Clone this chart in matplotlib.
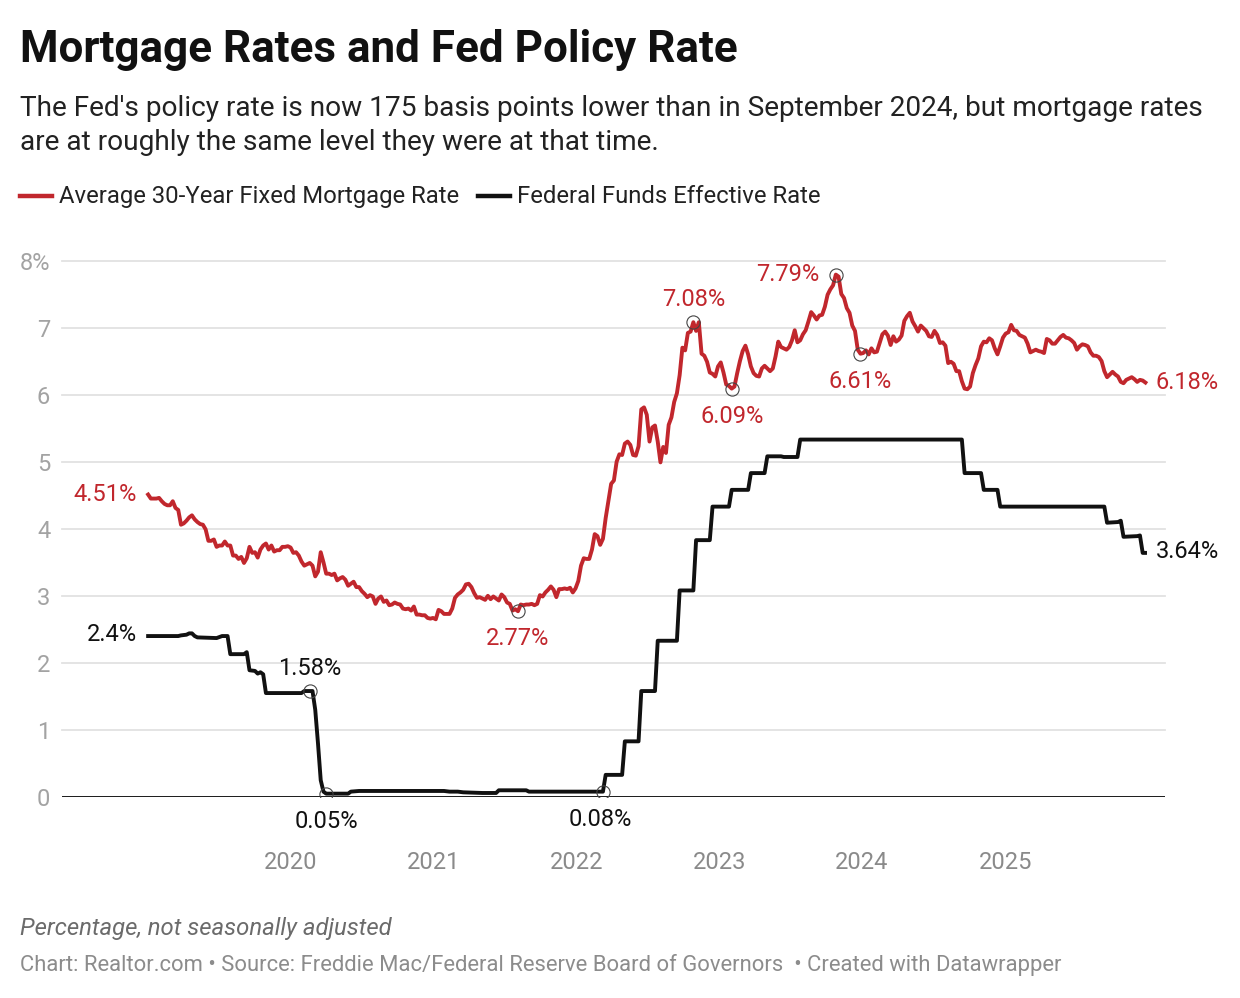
import pandas as pd
import matplotlib
matplotlib.use("Agg")
import matplotlib.pyplot as plt
from matplotlib.lines import Line2D

plt.rcParams['font.family'] = ['Roboto', 'DejaVu Sans']

# Freddie Mac PMMS, 30-year fixed, weekly (first Thursday of each year)
mort_starts = ['2019-01-03', '2020-01-02', '2021-01-07', '2022-01-06',
               '2023-01-05', '2024-01-04', '2025-01-02']
mort_2019 = [4.51, 4.45, 4.45, 4.45, 4.46, 4.41, 4.37, 4.35, 4.35, 4.41,
             4.31, 4.28, 4.06, 4.08, 4.12, 4.17, 4.20, 4.14, 4.10, 4.07,
             4.06, 3.99, 3.82, 3.82, 3.84, 3.73, 3.75, 3.75, 3.81, 3.75,
             3.75, 3.60, 3.60, 3.55, 3.58, 3.49, 3.56, 3.73, 3.64, 3.65,
             3.57, 3.69, 3.75, 3.78, 3.69, 3.75, 3.66, 3.68, 3.68, 3.73,
             3.73, 3.74]
mort_2020 = [3.72, 3.64, 3.65, 3.60, 3.51, 3.45, 3.47, 3.49, 3.45, 3.29,
             3.36, 3.65, 3.50, 3.33, 3.33, 3.31, 3.33, 3.23, 3.26, 3.28,
             3.24, 3.15, 3.18, 3.21, 3.13, 3.13, 3.07, 3.03, 2.98, 3.01,
             2.99, 2.88, 2.96, 2.99, 2.91, 2.93, 2.86, 2.87, 2.90, 2.88,
             2.87, 2.81, 2.80, 2.81, 2.78, 2.84, 2.72, 2.72, 2.71, 2.71,
             2.67, 2.66, 2.67]
mort_2021 = [2.65, 2.79, 2.77, 2.73, 2.73, 2.73, 2.81, 2.97, 3.02, 3.05,
             3.09, 3.17, 3.18, 3.13, 3.04, 2.97, 2.98, 2.96, 2.94, 3.00,
             2.95, 2.99, 2.96, 2.93, 3.02, 2.98, 2.90, 2.88, 2.78, 2.80,
             2.77, 2.87, 2.86, 2.87, 2.87, 2.88, 2.86, 2.88, 3.01, 2.99,
             3.05, 3.09, 3.14, 3.09, 2.98, 3.10, 3.10, 3.11, 3.10, 3.12,
             3.05, 3.11]
mort_2022 = [3.22, 3.45, 3.56, 3.55, 3.55, 3.69, 3.92, 3.89, 3.76, 3.85,
             4.16, 4.42, 4.67, 4.72, 5.00, 5.11, 5.10, 5.27, 5.30, 5.25,
             5.10, 5.09, 5.23, 5.78, 5.81, 5.70, 5.30, 5.51, 5.54, 5.30,
             4.99, 5.22, 5.13, 5.55, 5.66, 5.89, 6.02, 6.29, 6.70, 6.66,
             6.92, 6.94, 7.08, 6.95, 7.08, 6.61, 6.58, 6.49, 6.33, 6.31,
             6.27, 6.42]
mort_2023 = [6.48, 6.33, 6.15, 6.13, 6.09, 6.12, 6.32, 6.50, 6.65, 6.73,
             6.60, 6.42, 6.32, 6.28, 6.27, 6.39, 6.43, 6.39, 6.35, 6.39,
             6.57, 6.79, 6.71, 6.69, 6.67, 6.71, 6.81, 6.96, 6.78, 6.81,
             6.90, 6.96, 7.09, 7.23, 7.18, 7.12, 7.18, 7.19, 7.31, 7.49,
             7.57, 7.63, 7.79, 7.76, 7.50, 7.44, 7.29, 7.22, 7.03, 6.95,
             6.67, 6.61]
mort_2024 = [6.62, 6.66, 6.60, 6.69, 6.63, 6.64, 6.77, 6.90, 6.94, 6.88,
             6.74, 6.87, 6.79, 6.82, 6.88, 7.10, 7.17, 7.22, 7.09, 7.02,
             6.94, 7.03, 6.99, 6.95, 6.87, 6.86, 6.95, 6.89, 6.77, 6.78,
             6.73, 6.47, 6.49, 6.46, 6.35, 6.35, 6.20, 6.09, 6.08, 6.12,
             6.32, 6.44, 6.54, 6.72, 6.79, 6.78, 6.84, 6.81, 6.69, 6.60,
             6.72, 6.85]
mort_2025 = [6.91, 6.93, 7.04, 6.96, 6.95, 6.89, 6.87, 6.85, 6.76, 6.63,
             6.65, 6.67, 6.65, 6.64, 6.62, 6.83, 6.81, 6.76, 6.76, 6.81,
             6.86, 6.89, 6.85, 6.84, 6.81, 6.77, 6.67, 6.72, 6.75, 6.74,
             6.72, 6.63, 6.58, 6.58, 6.56, 6.50, 6.35, 6.26, 6.30, 6.34,
             6.30, 6.27, 6.19, 6.17, 6.22, 6.24, 6.26, 6.23, 6.19, 6.22,
             6.21, 6.18]
mort_years = [mort_2019, mort_2020, mort_2021, mort_2022, mort_2023, mort_2024, mort_2025]

# Federal funds effective rate, readings where the level changes
fed_dates = ['2019-01-03', '2019-03-21', '2019-03-28', '2019-04-11', '2019-04-18',
             '2019-04-25', '2019-05-02', '2019-05-09', '2019-06-27', '2019-07-11',
             '2019-07-25', '2019-08-01', '2019-09-05', '2019-09-12', '2019-09-19',
             '2019-10-03', '2019-10-10', '2019-10-17', '2019-10-24', '2019-10-31',
             '2020-01-30', '2020-02-06', '2020-02-20', '2020-02-27', '2020-03-05',
             '2020-03-12', '2020-03-19', '2020-03-26', '2020-04-02', '2020-05-28',
             '2020-06-04', '2020-06-25', '2021-01-28', '2021-02-11', '2021-03-04',
             '2021-03-18', '2021-05-06', '2021-06-10', '2021-06-17', '2021-08-26',
             '2021-09-02', '2022-03-10', '2022-03-17', '2022-04-28', '2022-05-05',
             '2022-06-09', '2022-06-16', '2022-07-21', '2022-07-28', '2022-09-15',
             '2022-09-22', '2022-10-27', '2022-11-03', '2022-12-08', '2022-12-15',
             '2023-01-26', '2023-02-02', '2023-03-16', '2023-03-23', '2023-04-27',
             '2023-05-04', '2023-06-08', '2023-06-15', '2023-07-20', '2023-07-27',
             '2024-09-12', '2024-09-19', '2024-10-31', '2024-11-07', '2024-12-12',
             '2024-12-19', '2025-09-11', '2025-09-18', '2025-10-16', '2025-10-23',
             '2025-10-30', '2025-12-04', '2025-12-11', '2025-12-18', '2025-12-24']
fed_values = [2.40, 2.40, 2.41, 2.42, 2.44,
              2.44, 2.40, 2.38, 2.37, 2.40,
              2.40, 2.13, 2.13, 2.16, 1.89,
              1.88, 1.84, 1.86, 1.83, 1.55,
              1.55, 1.58, 1.58, 1.58, 1.30,
              0.80, 0.25, 0.08, 0.05, 0.05,
              0.08, 0.09, 0.09, 0.08, 0.08,
              0.07, 0.06, 0.06, 0.10, 0.10,
              0.08, 0.08, 0.33, 0.33, 0.83,
              0.83, 1.58, 1.58, 2.33, 2.33,
              3.08, 3.08, 3.83, 3.83, 4.33,
              4.33, 4.58, 4.58, 4.83, 4.83,
              5.08, 5.08, 5.07, 5.07, 5.33,
              5.33, 4.83, 4.83, 4.58, 4.58,
              4.33, 4.33, 4.09, 4.10, 4.12,
              3.88, 3.89, 3.90, 3.64, 3.64]

# labelled turning points
mort_marks = ['2021-08-05', '2022-10-27', '2023-02-02', '2023-10-26', '2023-12-28']
fed_marks = ['2020-02-20', '2020-04-02', '2022-03-10']

year_ticks = [2020, 2021, 2022, 2023, 2024, 2025]

title = "Mortgage Rates and Fed Policy Rate"
subtitle = ["The Fed's policy rate is now 175 basis points lower than in September 2024, but mortgage rates",
            "are at roughly the same level they were at that time."]
mort_name = "Average 30-Year Fixed Mortgage Rate"
fed_name = "Federal Funds Effective Rate"
note = "Percentage, not seasonally adjusted"
source = "Chart: Realtor.com \u2022 Source: Freddie Mac/Federal Reserve Board of Governors  \u2022 Created with Datawrapper"

RED = '#c1272d'
BLACK = '#111111'

mort_dates = pd.DatetimeIndex([])
for start, vals in zip(mort_starts, mort_years):
    mort_dates = mort_dates.append(pd.date_range(start, periods=len(vals), freq='7D'))
mort = pd.Series(sum(mort_years, []), index=mort_dates)
fed = pd.Series(fed_values, index=pd.to_datetime(fed_dates))

W, H = 1240, 998


def fx(x):
    return x / W


def fy(y):
    return 1 - y / H


fig = plt.figure(figsize=(W / 100, H / 100), dpi=100)
ax = fig.add_axes([fx(62), fy(797), fx(1165) - fx(62), fy(260.5) - fy(797)])
ax.set_xlim(pd.Timestamp('2018-05-28'), pd.Timestamp('2026-02-13'))
ax.set_ylim(0, 8)
for s in ax.spines.values():
    s.set_visible(False)

for y in range(1, 9):
    ax.axhline(y, color='#e2e2e2', lw=1.3, zorder=1, clip_on=False)
ax.axhline(0, color='#1a1a1a', lw=1.4, zorder=2)

ax.set_yticks(range(9))
ax.set_yticklabels([str(i) for i in range(8)] + ['8%'])
ax.tick_params(axis='y', length=0, pad=8.5, labelsize=17, labelcolor='#a3a3a3')
ax.set_xticks([pd.Timestamp(f'{y}-01-01') for y in year_ticks])
ax.set_xticklabels([str(y) for y in year_ticks])
ax.tick_params(axis='x', length=0, pad=39, labelsize=17, labelcolor='#8a8a8a')

ax.plot(mort.index, mort.values, color=RED, lw=2.8, solid_joinstyle='round', zorder=3, clip_on=False)
ax.plot(fed.index, fed.values, color=BLACK, lw=2.8, solid_joinstyle='round', zorder=3, clip_on=False)

# circles at the labelled turning points
for d in mort_marks:
    ax.plot(pd.Timestamp(d), mort[d], 'o', mfc='none', mec='#444444', mew=0.8, ms=9.5, zorder=4)
for d in fed_marks:
    ax.plot(pd.Timestamp(d), fed[d], 'o', mfc='none', mec='#444444', mew=0.8, ms=9.5, zorder=4)


def label(series, d, dx, dy, color, ha='center'):
    v = series[d]
    ax.annotate(f"{v:g}%", xy=(pd.Timestamp(d), v), xytext=(dx, dy), textcoords='offset points',
                ha=ha, va='center', fontsize=17, color=color, zorder=5)


# ends of lines
label(mort, mort.index[0], -8, 0, RED, 'right')
label(fed, fed.index[0], -8, 1, BLACK, 'right')
label(mort, mort.index[-1], 7.5, 0, RED, 'left')
label(fed, fed.index[-1], 7.5, 1, BLACK, 'left')
# turning points
label(mort, '2021-08-05', 0, -19.5, RED)
label(mort, '2022-10-27', 0, 16.5, RED)
label(mort, '2023-02-02', 0, -20, RED)
label(mort, '2023-10-26', -12, 0, RED, 'right')
label(mort, '2023-12-28', 0, -20, RED)
label(fed, '2020-02-20', 0, 16, BLACK)
label(fed, '2020-04-02', 0, -20, BLACK)
label(fed, '2022-03-10', -2, -20, BLACK)

# header
fig.text(fx(20), fy(62), title, fontsize=31.7, fontweight='bold', color='#111111', va='baseline')
fig.text(fx(20), fy(116.5), subtitle[0], fontsize=20.2, color='#222222', va='baseline')
fig.text(fx(20), fy(150), subtitle[1], fontsize=20.2, color='#222222', va='baseline')

fig.add_artist(Line2D([fx(20), fx(52)], [fy(196), fy(196)], color=RED, lw=3.2))
fig.text(fx(59), fy(203), mort_name, fontsize=17.2, color='#222222', va='baseline')
fig.add_artist(Line2D([fx(478), fx(510)], [fy(196), fy(196)], color=BLACK, lw=3.2))
fig.text(fx(517), fy(203), fed_name, fontsize=17.2, color='#222222', va='baseline')

# footer
fig.text(fx(20), fy(935), note, fontsize=17.2, style='italic', color='#6b6b6b', va='baseline')
fig.text(fx(20), fy(971), source, fontsize=15.8, color='#8c8c8c', va='baseline')

fig.savefig('out.png', dpi=100)
